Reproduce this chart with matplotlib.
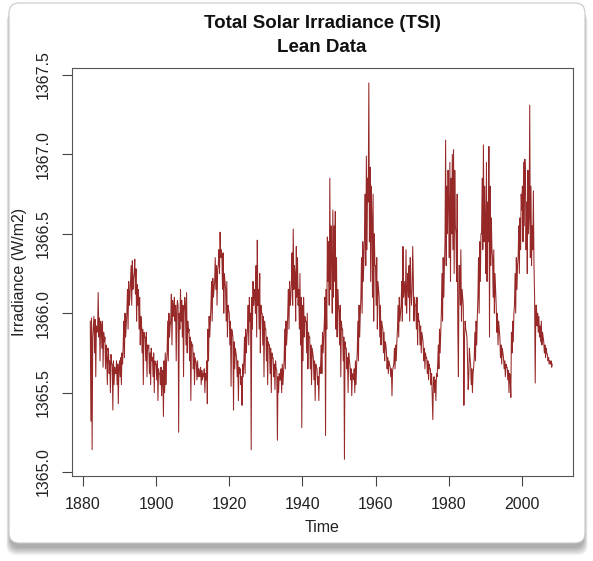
import numpy as np
import matplotlib
matplotlib.use("Agg")
from matplotlib import pyplot as plt
from matplotlib.patches import FancyBboxPatch

# Lean TSI, 6 samples per year starting 1882, stored as W/m2 above 1365
BASE = 1365.0
START_YEAR = 1882
PER_YEAR = 6

tsi_1880s = [0.95, 0.32, 0.97, 0.14, 0.85, 0.92,
             0.98, 0.75, 0.96, 0.60, 0.92, 0.88,
             0.90, 1.13, 0.85, 0.97, 0.70, 0.95,
             0.92, 0.78, 0.95, 0.66, 0.88, 0.82,
             0.85, 0.65, 0.80, 0.72, 0.55, 0.78,
             0.75, 0.62, 0.70, 0.50, 0.74, 0.68,
             0.68, 0.39, 0.70, 0.55, 0.66, 0.62,
             0.62, 0.70, 0.55, 0.68, 0.43, 0.66]
tsi_1890s = [0.70, 0.60, 0.72, 0.55, 0.75, 0.68,
             0.80, 0.95, 0.72, 1.00, 0.85, 0.92,
             1.00, 1.15, 0.90, 1.20, 1.05, 1.10,
             1.20, 1.30, 1.05, 1.33, 1.15, 1.22,
             1.25, 1.34, 1.12, 1.28, 0.95, 1.18,
             1.05, 1.15, 0.90, 1.10, 0.80, 0.98,
             0.95, 0.75, 0.90, 0.55, 0.88, 0.85,
             0.85, 0.70, 0.88, 0.60, 0.80, 0.78,
             0.80, 0.62, 0.75, 0.55, 0.78, 0.70,
             0.72, 0.60, 0.75, 0.50, 0.70, 0.68]
tsi_1900s = [0.68, 0.58, 0.70, 0.45, 0.65, 0.62,
             0.62, 0.55, 0.66, 0.48, 0.60, 0.64,
             0.35, 0.70, 0.50, 0.75, 0.55, 0.68,
             0.75, 0.95, 0.70, 1.00, 0.85, 0.92,
             0.95, 1.12, 0.80, 1.08, 0.98, 1.05,
             1.10, 0.95, 1.05, 0.70, 1.02, 1.08,
             1.05, 0.25, 1.00, 0.90, 1.15, 0.95,
             1.08, 0.85, 1.05, 0.60, 1.00, 1.10,
             1.05, 0.80, 1.13, 0.75, 0.95, 0.88,
             0.90, 0.70, 0.85, 0.45, 0.82, 0.80]
tsi_1910s = [0.80, 0.65, 0.75, 0.55, 0.72, 0.70,
             0.68, 0.58, 0.70, 0.60, 0.65, 0.62,
             0.60, 0.66, 0.55, 0.64, 0.58, 0.62,
             0.60, 0.65, 0.50, 0.62, 0.58, 0.70,
             0.43, 0.90, 0.70, 0.98, 0.85, 0.95,
             1.05, 1.20, 0.95, 1.22, 1.10, 1.15,
             1.20, 1.35, 1.15, 1.30, 1.05, 1.28,
             1.30, 1.40, 1.25, 1.51, 1.35, 1.40,
             1.35, 1.15, 1.38, 1.00, 1.25, 1.20,
             1.15, 0.95, 1.20, 0.85, 1.05, 1.02]
tsi_1920s = [1.00, 0.80, 0.95, 0.54, 0.90, 0.88,
             0.85, 0.39, 0.82, 0.65, 0.78, 0.75,
             0.72, 0.60, 0.70, 0.45, 0.66, 0.62,
             0.65, 0.55, 0.60, 0.42, 0.68, 0.60,
             0.70, 0.85, 0.62, 0.90, 0.75, 0.85,
             0.90, 1.05, 0.80, 1.10, 0.95, 1.00,
             0.14, 1.10, 0.90, 1.20, 1.05, 1.12,
             1.15, 1.00, 1.30, 0.85, 1.46, 1.05,
             1.15, 0.90, 1.25, 0.75, 1.05, 1.00,
             1.00, 0.80, 0.98, 0.60, 0.95, 0.90]
tsi_1930s = [0.90, 0.70, 0.85, 0.55, 0.82, 0.80,
             0.80, 0.62, 0.78, 0.50, 0.75, 0.72,
             0.72, 0.60, 0.68, 0.52, 0.70, 0.65,
             0.64, 0.20, 0.60, 0.50, 0.62, 0.58,
             0.58, 0.65, 0.50, 0.68, 0.55, 0.62,
             0.70, 0.90, 0.65, 0.95, 0.80, 0.88,
             1.00, 1.15, 0.90, 1.20, 1.05, 1.10,
             1.20, 1.38, 1.05, 1.53, 1.15, 1.30,
             1.25, 0.95, 1.42, 1.10, 1.35, 1.05,
             1.15, 0.90, 1.25, 0.80, 1.10, 0.28]
tsi_1940s = [1.05, 0.70, 1.10, 0.85, 0.98, 0.95,
             0.95, 0.75, 1.00, 0.65, 0.88, 0.85,
             0.85, 0.65, 0.80, 0.55, 0.78, 0.75,
             0.72, 0.58, 0.70, 0.45, 0.68, 0.66,
             0.65, 0.55, 0.60, 0.45, 0.66, 0.62,
             0.68, 0.80, 0.62, 0.88, 0.75, 0.85,
             0.95, 1.10, 0.23, 1.15, 0.90, 1.48,
             1.20, 1.45, 1.05, 1.85, 1.15, 1.55,
             1.35, 1.00, 1.65, 1.10, 1.55, 1.20,
             1.64, 0.90, 1.35, 0.85, 1.15, 1.05]
tsi_1950s = [1.00, 0.80, 1.05, 0.60, 0.95, 0.90,
             0.90, 0.70, 0.85, 0.08, 0.82, 0.78,
             0.78, 0.65, 0.72, 0.50, 0.75, 0.70,
             0.68, 0.58, 0.65, 0.48, 0.62, 0.60,
             0.58, 0.65, 0.50, 0.70, 0.55, 0.68,
             0.75, 0.95, 0.70, 1.05, 0.85, 1.00,
             1.10, 1.35, 1.00, 1.45, 1.20, 1.35,
             1.50, 1.75, 1.30, 1.99, 1.40, 1.85,
             1.70, 2.45, 1.45, 1.92, 1.20, 1.80,
             1.60, 1.10, 1.75, 0.95, 1.50, 1.30]
tsi_1960s = [1.30, 1.05, 1.35, 0.90, 1.20, 1.15,
             1.10, 0.85, 1.05, 0.80, 0.95, 0.92,
             0.90, 0.75, 0.88, 0.70, 0.82, 0.80,
             0.75, 0.65, 0.72, 0.62, 0.70, 0.68,
             0.66, 0.60, 0.65, 0.48, 0.64, 0.66,
             0.68, 0.78, 0.65, 0.80, 0.70, 0.82,
             0.90, 1.05, 0.85, 1.10, 0.95, 1.00,
             1.05, 1.20, 0.95, 1.42, 1.10, 1.15,
             1.20, 1.05, 1.40, 1.00, 1.15, 1.25,
             1.10, 1.30, 0.95, 1.35, 1.15, 1.05]
tsi_1970s = [1.15, 1.42, 1.22, 0.95, 1.10, 1.05,
             1.05, 0.90, 1.10, 0.80, 1.00, 0.95,
             0.95, 0.80, 0.92, 0.75, 0.88, 0.85,
             0.82, 0.70, 0.78, 0.65, 0.75, 0.72,
             0.72, 0.62, 0.70, 0.58, 0.68, 0.65,
             0.65, 0.55, 0.62, 0.48, 0.33, 0.58,
             0.60, 0.50, 0.58, 0.45, 0.62, 0.60,
             0.68, 0.80, 0.65, 0.90, 0.75, 0.88,
             1.00, 1.25, 0.95, 1.35, 1.10, 1.30,
             1.45, 2.09, 1.30, 1.80, 1.50, 1.90]
tsi_1980s = [1.70, 1.35, 1.95, 1.20, 1.85, 1.50,
             2.00, 1.40, 2.03, 1.25, 1.90, 1.55,
             1.50, 1.20, 1.75, 0.90, 0.60, 1.30,
             1.30, 1.05, 1.40, 0.95, 1.15, 1.10,
             1.05, 0.42, 0.85, 0.95, 0.90, 0.88,
             0.85, 0.70, 0.52, 0.60, 0.78, 0.72,
             0.68, 0.55, 0.65, 0.50, 0.62, 0.66,
             0.72, 0.88, 0.70, 0.95, 0.80, 0.98,
             1.10, 1.35, 1.00, 1.45, 1.20, 1.50,
             1.50, 1.85, 1.40, 2.06, 1.45, 1.80]
tsi_1990s = [1.60, 1.25, 1.95, 1.20, 1.70, 1.45,
             2.05, 0.85, 1.80, 1.30, 1.60, 1.40,
             1.35, 1.10, 1.40, 1.00, 1.25, 1.15,
             1.05, 0.88, 1.00, 0.80, 0.95, 0.90,
             0.85, 0.72, 0.80, 0.68, 0.78, 0.75,
             0.72, 0.65, 0.70, 0.60, 0.68, 0.66,
             0.66, 0.58, 0.64, 0.50, 0.62, 0.60,
             0.47, 0.88, 0.75, 0.95, 0.82, 1.00,
             1.05, 1.25, 1.00, 1.35, 1.15, 1.30,
             1.35, 1.55, 1.25, 1.60, 1.40, 1.75]
tsi_2000s = [1.65, 1.80, 1.45, 1.95, 1.55, 1.97,
             1.85, 1.40, 1.70, 1.25, 1.90, 1.50,
             1.60, 2.31, 1.35, 1.80, 1.30, 1.55,
             1.40, 1.77, 1.30, 1.10, 0.56, 1.05,
             1.05, 0.92, 1.00, 0.88, 0.98, 0.85,
             0.92, 0.82, 0.95, 0.80, 0.88, 0.85,
             0.82, 0.75, 0.80, 0.72, 0.78, 0.75,
             0.74, 0.70, 0.72, 0.68, 0.70, 0.68,
             0.70, 0.66, 0.68]

x_ticks = [1880, 1900, 1920, 1940, 1960, 1980, 2000]
y_ticks = [1365.0, 1365.5, 1366.0, 1366.5, 1367.0, 1367.5]

tsi = BASE + np.array(tsi_1880s + tsi_1890s + tsi_1900s + tsi_1910s + tsi_1920s
                      + tsi_1930s + tsi_1940s + tsi_1950s + tsi_1960s + tsi_1970s
                      + tsi_1980s + tsi_1990s + tsi_2000s)
time = START_YEAR + np.arange(len(tsi)) / PER_YEAR

W, H = 593, 561
fig = plt.figure(figsize=(W / 100, H / 100), dpi=100)
fig.patch.set_facecolor('white')

def px_box(x0, y0, x1, y1):
    # image pixel box (y down) -> inches for dpi_scale_trans
    return x0 / 100, (H - y1) / 100, (x1 - x0) / 100, (y1 - y0) / 100

# drop shadow of the rounded panel
for k in range(7):
    bx, by, bw, bh = px_box(10 - k * 0.6, 10 + k * 0.3, 584 + k * 0.6, 548 + k * 1.2)
    fig.patches.append(FancyBboxPatch((bx, by), bw, bh,
                                      boxstyle="round,pad=0,rounding_size=0.1",
                                      transform=fig.dpi_scale_trans,
                                      fc='black', ec='none', alpha=0.05, zorder=-3))
bx, by, bw, bh = px_box(9, 3, 585, 543)
fig.patches.append(FancyBboxPatch((bx, by), bw, bh,
                                  boxstyle="round,pad=0,rounding_size=0.1",
                                  transform=fig.dpi_scale_trans,
                                  fc='white', ec='#c8c8c8', lw=0.8, zorder=-2))

ax = fig.add_axes([72 / W, 1 - 476 / H, (573 - 72) / W, (476 - 68) / H])
ax.set_facecolor('none')
ax.plot(time, tsi, color='#8b1010', lw=0.75, alpha=0.9)

ax.set_xlim(1877.0, 2014.0)
ax.set_ylim(1364.975, 1367.544)
ax.set_xticks(x_ticks)
ax.set_yticks(y_ticks)
ax.set_yticklabels(['%.1f' % v for v in y_ticks], rotation=90, va='center')

fs = 11.5
ax.tick_params(axis='both', direction='out', length=7, width=0.8,
               colors='#444444', labelcolor='#222222', labelsize=fs)
ax.tick_params(axis='x', pad=8)
ax.tick_params(axis='y', pad=8)
for s in ax.spines.values():
    s.set_color('#555555')
    s.set_linewidth(0.8)

for lab in ax.get_xticklabels() + ax.get_yticklabels():
    lab.set_family('Liberation Sans')

fig.text(322 / W, 1 - 23 / H, 'Total Solar Irradiance (TSI)', ha='center', va='center',
         fontsize=13.5, fontweight='bold', family='Liberation Sans', color='#111111')
fig.text(322 / W, 1 - 47 / H, 'Lean Data', ha='center', va='center',
         fontsize=13.5, fontweight='bold', family='Liberation Sans', color='#111111')
fig.text(322 / W, 1 - 527 / H, 'Time', ha='center', va='center',
         fontsize=fs, family='Liberation Sans', color='#222222')
fig.text(20 / W, 1 - 272 / H, 'Irradiance (W/m2)', ha='center', va='center', rotation=90,
         fontsize=fs, family='Liberation Sans', color='#222222')

fig.savefig('out.png', dpi=100, facecolor='white')
